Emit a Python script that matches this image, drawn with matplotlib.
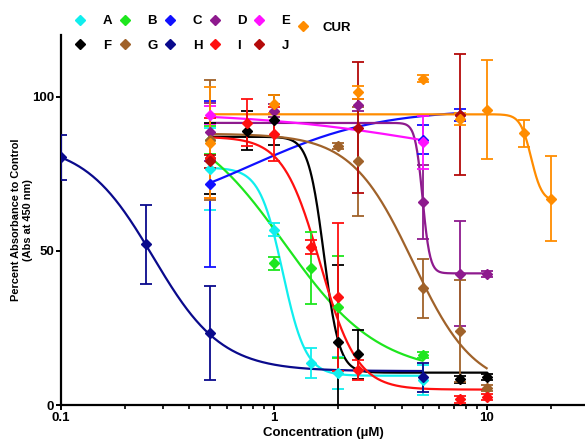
import numpy as np
import matplotlib
matplotlib.use("Agg")
import matplotlib.pyplot as plt
from matplotlib.lines import Line2D
from matplotlib.ticker import LogLocator, FixedLocator, NullFormatter


plt.rcParams["font.family"] = ["Liberation Sans", "DejaVu Sans"]
plt.rcParams["font.weight"] = "bold"

SERIES_COLORS = {
    "A": "#10EEEE",
    "B": "#1EE61E",
    "C": "#1010FF",
    "D": "#8E1A8E",
    "E": "#FF10FF",
    "F": "#000000",
    "G": "#A0622A",
    "H": "#0A0A8C",
    "I": "#FF1010",
    "J": "#B40A0A",
    "CUR": "#FF8C00",
}

# measured points (concentration in uM, percent absorbance, error)
a_conc = [0.5, 1, 1.5, 2, 5]
a_mean = [76.6, 56.9, 13.7, 10.3, 8.1]
a_err = [13.3, 2, 4.9, 5.2, 5]

b_conc = [0.5, 1, 1.5, 2, 5]
b_mean = [86, 45.9, 44.4, 31.8, 16.1]
b_err = [4.6, 2, 11.7, 16.5, 1]

c_conc = [0.5, 5, 7.5]
c_mean = [71.7, 86, 94]
c_err = [27, 4.7, 2]

d_conc = [0.5, 1, 2.5, 5, 7.5, 10]
d_mean = [88.5, 95.5, 97.3, 66, 42.6, 42.6]
d_err = [9.3, 2, 2, 12, 17, 1]

e_conc = [0.5, 5]
e_mean = [94, 85.2]
e_err = [3, 8.5]

f_conc = [0.5, 0.75, 1, 2, 2.5, 7.5, 10]
f_mean = [80, 89, 92.4, 20.5, 16.4, 8.3, 9.0]
f_err = [11.5, 6.2, 8, 25, 8, 1, 1]

g_conc = [0.5, 2, 2.5, 5, 7.5, 10]
g_mean = [86, 83.9, 79, 37.8, 23.9, 5.4]
g_err = [19.5, 1, 17.7, 9.6, 16.5, 1]

h_conc = [0.1, 0.25, 0.5, 5]
h_mean = [80.4, 52.1, 23.3, 9]
h_err = [7.3, 12.7, 15.2, 4.7]

i_conc = [0.5, 0.75, 1, 1.5, 2, 2.5, 7.5, 10]
i_mean = [80, 91.5, 87.9, 51.2, 35, 11.3, 1.8, 2.5]
i_err = [13, 7.6, 8.6, 2.2, 24, 3.3, 1, 1]

j_conc = [0.5, 2.5, 7.5]
j_mean = [79, 90, 94.2]
j_err = [2, 21.3, 19.6]

cur_conc = [0.5, 1, 2.5, 5, 7.5, 10, 15, 20]
cur_mean = [85, 97.6, 101.4, 105.9, 92.8, 95.8, 88.1, 66.9]
cur_err = [18, 3, 2, 1, 2, 16, 4.5, 13.8]

# fitted dose-response parameters: top, bottom, EC50, hill (J has no fit drawn)
fit_top = {"A": 77, "B": 95, "C": 60, "D": 91.5, "E": 95, "F": 87, "G": 88, "H": 85, "I": 87, "CUR": 94.3}
fit_bottom = {"A": 9.5, "B": 10, "C": 96, "D": 42.7, "E": 75, "F": 10.5, "G": 5, "H": 11, "I": 5, "CUR": 66}
fit_ec50 = {"A": 1.1, "B": 1.12, "C": 0.8, "D": 5.0, "E": 6, "F": 1.72, "G": 4.5, "H": 0.271, "I": 1.65, "CUR": 16.2}
fit_hill = {"A": 8, "B": 1.95, "C": 1.47, "D": 25, "E": 1, "F": 12, "G": 3, "H": 2.7, "I": 5, "CUR": 17}

SERIES = {
    "A": (a_conc, a_mean, a_err),
    "B": (b_conc, b_mean, b_err),
    "C": (c_conc, c_mean, c_err),
    "D": (d_conc, d_mean, d_err),
    "E": (e_conc, e_mean, e_err),
    "F": (f_conc, f_mean, f_err),
    "G": (g_conc, g_mean, g_err),
    "H": (h_conc, h_mean, h_err),
    "I": (i_conc, i_mean, i_err),
    "J": (j_conc, j_mean, j_err),
    "CUR": (cur_conc, cur_mean, cur_err),
}


def dose_response(x, top, bottom, ec50, hill):
    """ Four parameter logistic curve """
    return bottom + (top - bottom) / (1 + (x / ec50) ** hill)


fig = plt.figure(figsize=(5.85, 4.44), dpi=100)
ax = fig.add_axes([0.1043, 0.0878, 0.8957, 0.8333])

for name, (conc, mean, err) in SERIES.items():
    color = SERIES_COLORS[name]

    if name in fit_top:
        xs = np.geomspace(min(conc), max(conc), 400)
        ys = dose_response(xs, fit_top[name], fit_bottom[name], fit_ec50[name], fit_hill[name])
        ax.plot(xs, ys, color=color, linewidth=1.6, zorder=2)

    ax.errorbar(
        conc, mean, yerr=err,
        fmt="D", color=color, markersize=5,
        elinewidth=1.3, capsize=4, capthick=1.3, zorder=3
    )

ax.set_xscale("log")
ax.set_xlim(0.1, 29)
ax.set_ylim(0, 120)

ax.xaxis.set_major_locator(FixedLocator([0.1, 1, 10]))
ax.set_xticklabels(["0.1", "1", "10"])
ax.xaxis.set_minor_locator(LogLocator(base=10, subs=np.arange(2, 10)))
ax.xaxis.set_minor_formatter(NullFormatter())
ax.set_yticks([0, 50, 100])

for side in ["top", "right"]:
    ax.spines[side].set_visible(False)
for side in ["left", "bottom"]:
    ax.spines[side].set_linewidth(1.6)

ax.tick_params(axis="both", which="major", length=3.5, width=1.4, labelsize=9.5, pad=1.5)
ax.tick_params(axis="x", which="minor", length=3, width=1.2)

ax.set_xlabel("Concentration (\u00b5M)", fontsize=9.5, fontweight="bold", labelpad=2)
ax.set_ylabel("Percent Absorbance to Control\n(Abs at 450 nm)", fontsize=7.9, fontweight="bold")
ax.yaxis.set_label_coords(-0.054, 0.5)

# legend: rows A-E and F-J, filled column by column
legend_order = ["A", "F", "B", "G", "C", "H", "D", "I", "E", "J"]
handles = [
    Line2D([], [], marker="D", linestyle="none", color=SERIES_COLORS[n], markersize=5, label=n)
    for n in legend_order
]
fig.legend(
    handles=handles, ncol=5, loc="upper left", bbox_to_anchor=(0.126, 0.966),
    frameon=False, handlelength=1.0, handletextpad=1.2,
    columnspacing=0.45, labelspacing=0.95, borderpad=0, borderaxespad=0,
    prop={"weight": "bold", "size": 9.5}
)

cur_handle = Line2D([], [], marker="D", linestyle="none", color=SERIES_COLORS["CUR"], markersize=5, label="CUR")
fig.legend(
    handles=[cur_handle], loc="upper left", bbox_to_anchor=(0.507, 0.952),
    frameon=False, handlelength=1.0, handletextpad=1.0, borderpad=0, borderaxespad=0,
    prop={"weight": "bold", "size": 9.5}
)

fig.savefig("out.png", dpi=100)
